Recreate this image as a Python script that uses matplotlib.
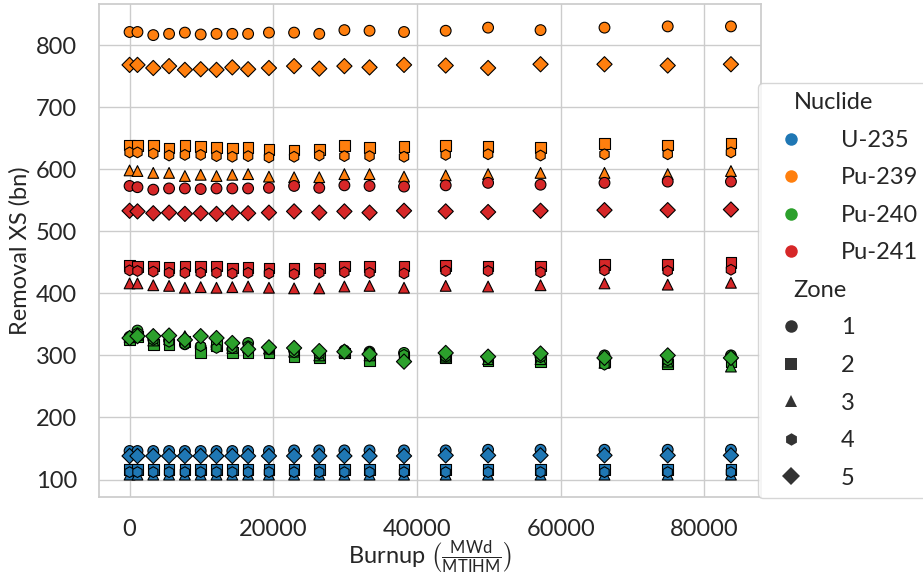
import matplotlib
matplotlib.use("Agg")
import matplotlib.pyplot as plt
import pandas as pd
import seaborn as sns
from matplotlib.lines import Line2D

# burnup steps (MWd/MTIHM)
burnup = [0, 1100, 3300, 5500, 7700, 9900, 12100, 14300, 16500, 19400, 22900,
          26400, 29900, 33400, 38200, 44000, 49900, 57200, 66100, 74900, 83700]

nuclides = ["U-235", "Pu-239", "Pu-240", "Pu-241"]
zones = [1, 2, 3, 4, 5]
zone_markers = ["o", "s", "^", "h", "D"]

# removal cross sections (bn), one list per nuclide and zone
u235_zone1 = [146, 146, 146, 146, 146, 146, 146, 146, 146, 146, 147,
              147, 147, 147, 147, 147, 148, 148, 148, 148, 148]
u235_zone2 = [116, 116, 116, 116, 116, 116, 116, 116, 116, 116, 116,
              116, 116, 116, 116, 116, 116, 116, 116, 116, 116]
u235_zone3 = [108, 108, 108, 108, 108, 108, 108, 108, 108, 108, 108,
              108, 108, 108, 108, 108, 108, 108, 108, 108, 108]
u235_zone4 = [112, 112, 112, 112, 112, 112, 112, 112, 112, 112, 112,
              112, 112, 112, 112, 112, 112, 112, 112, 112, 112]
u235_zone5 = [138, 138, 138, 138, 138, 138, 138, 138, 138, 138, 138,
              138, 138, 138, 138, 139, 139, 139, 139, 139, 139]

pu239_zone1 = [821, 821, 816, 818, 820, 817, 818, 818, 818, 820, 820,
               818, 824, 823, 821, 823, 828, 824, 828, 830, 830]
pu239_zone2 = [639, 638, 638, 634, 638, 637, 635, 634, 635, 632, 631,
               632, 638, 635, 636, 638, 636, 635, 641, 639, 642]
pu239_zone3 = [598, 597, 594, 594, 589, 591, 589, 591, 592, 588, 587,
               587, 592, 592, 588, 590, 592, 594, 594, 592, 597]
pu239_zone4 = [627, 627, 625, 622, 623, 623, 621, 620, 621, 619, 620,
               622, 621, 621, 620, 623, 624, 622, 624, 624, 627]
pu239_zone5 = [768, 768, 763, 766, 760, 761, 760, 764, 761, 763, 766,
               762, 766, 764, 768, 767, 763, 769, 769, 767, 769]

pu240_zone1 = [330, 340, 326, 324, 318, 314, 314, 310, 320, 312, 308,
               305, 308, 306, 304, 298, 296, 298, 300, 296, 300]
pu240_zone2 = [326, 330, 318, 318, 322, 305, 316, 305, 305, 305, 298,
               297, 304, 292, 297, 296, 291, 290, 290, 286, 290]
pu240_zone3 = [330, 333, 324, 326, 331, 320, 318, 312, 313, 311, 306,
               300, 306, 300, 297, 298, 294, 294, 288, 290, 282]
pu240_zone4 = [328, 336, 325, 322, 318, 315, 312, 312, 315, 310, 305,
               302, 307, 305, 301, 298, 296, 297, 285, 292, 298]
pu240_zone5 = [328, 331, 331, 332, 325, 331, 328, 320, 310, 313, 312,
               307, 306, 302, 290, 304, 298, 303, 296, 300, 296]

pu241_zone1 = [573, 571, 567, 569, 569, 568, 569, 569, 569, 570, 573,
               570, 574, 573, 572, 574, 578, 575, 578, 580, 580]
pu241_zone2 = [445, 443, 444, 442, 444, 443, 444, 441, 442, 441, 440,
               441, 444, 443, 444, 445, 444, 444, 447, 446, 450]
pu241_zone3 = [416, 416, 413, 412, 409, 410, 409, 410, 411, 409, 408,
               408, 411, 412, 409, 412, 411, 413, 416, 414, 417]
pu241_zone4 = [437, 436, 435, 433, 433, 433, 433, 432, 433, 432, 431,
               433, 434, 433, 432, 436, 436, 434, 437, 436, 438]
pu241_zone5 = [533, 532, 529, 530, 528, 529, 528, 530, 529, 530, 532,
               530, 532, 530, 533, 532, 531, 533, 534, 534, 535]

series = {
    "U-235": [u235_zone1, u235_zone2, u235_zone3, u235_zone4, u235_zone5],
    "Pu-239": [pu239_zone1, pu239_zone2, pu239_zone3, pu239_zone4, pu239_zone5],
    "Pu-240": [pu240_zone1, pu240_zone2, pu240_zone3, pu240_zone4, pu240_zone5],
    "Pu-241": [pu241_zone1, pu241_zone2, pu241_zone3, pu241_zone4, pu241_zone5],
}

rows = []
for nuc in nuclides:
    for zone, values in zip(zones, series[nuc]):
        for bu, xs in zip(burnup, values):
            rows.append({"Burnup": bu, "XS": xs, "Nuclide": nuc, "Zone": zone})
df = pd.DataFrame(rows)

sns.set_theme(style="whitegrid", palette="tab10")
plt.rcParams["font.family"] = ["Lato", "DejaVu Sans"]
plt.rcParams["mathtext.fontset"] = "custom"
plt.rcParams["mathtext.rm"] = "Lato"
plt.rcParams["mathtext.it"] = "Lato"

colors = sns.color_palette("tab10", len(nuclides))

fig = plt.figure(figsize=(9.23, 5.79), dpi=100)
ax = fig.add_axes([0.1078, 0.1416, 0.7167, 0.8515])

sns.scatterplot(
    data=df,
    x="Burnup",
    y="XS",
    hue="Nuclide",
    style="Zone",
    palette=colors,
    markers=zone_markers,
    s=60,
    edgecolor="k",
    linewidth=0.8,
    legend=False,
    ax=ax,
)

ax.set_xlabel(r"Burnup $\left(\frac{\mathrm{MWd}}{\mathrm{MTIHM}}\right)$",
              fontsize=17, labelpad=-1)
ax.set_ylabel("Removal XS (bn)", fontsize=17)
ax.tick_params(axis="both", labelsize=17, pad=10)

# legend with two sub-titles (hue, then style)
handles = [Line2D([], [], linestyle="none", visible=False)]
labels = ["Nuclide"]
for c, nuc in zip(colors, nuclides):
    handles.append(Line2D([], [], linestyle="none", marker="o", markersize=9,
                          markerfacecolor=c, markeredgewidth=0))
    labels.append(nuc)
handles.append(Line2D([], [], linestyle="none", visible=False))
labels.append("Zone")
for m, z in zip(zone_markers, zones):
    handles.append(Line2D([], [], linestyle="none", marker=m, markersize=9,
                          markerfacecolor=".2", markeredgewidth=0))
    labels.append(str(z))

leg = ax.legend(
    handles,
    labels,
    loc="lower left",
    bbox_to_anchor=(758 / 923, 81 / 579),
    bbox_transform=fig.transFigure,
    borderaxespad=0,
    fontsize=17,
    labelspacing=0.7,
    handlelength=2.0,
    handletextpad=1.1,
)

# pull the sub-titles over to the marker column
for column in leg._legend_handle_box.get_children():
    for row in column.get_children():
        draw_area, text_area = row.get_children()
        if text_area.get_children()[0].get_text() in ("Nuclide", "Zone"):
            draw_area.set_width(0)

fig.savefig("out.png", dpi=100)
